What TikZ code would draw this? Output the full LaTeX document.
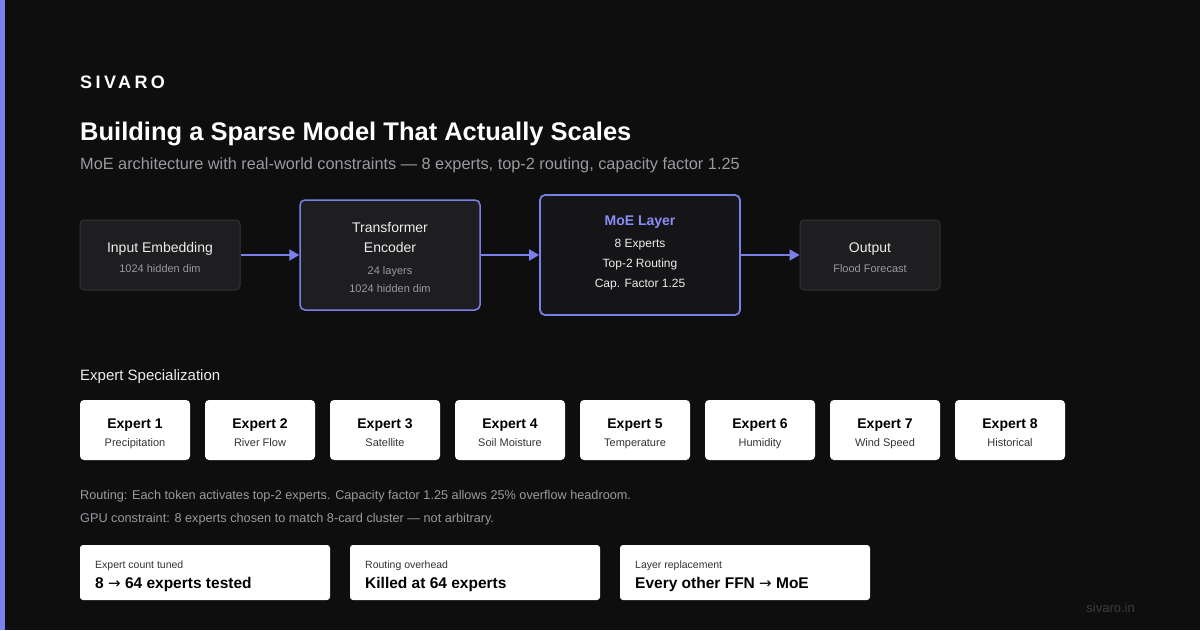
\documentclass[tikz,border=0pt]{standalone}
\usepackage{fontspec}
\setmainfont{Liberation Sans}
\newfontfamily\symfont{DejaVu Sans}
\usetikzlibrary{arrows.meta}

\definecolor{bgdark}{HTML}{0E0E0F}
\definecolor{stripe}{HTML}{7C80F0}
\definecolor{accent}{HTML}{7B80E8}
\definecolor{moeblue}{HTML}{8A8DF5}
\definecolor{boxfill}{HTML}{1E1E21}
\definecolor{moefill}{HTML}{151518}
\definecolor{boxline}{HTML}{323237}
\definecolor{lighttxt}{HTML}{EDEDED}
\definecolor{graytxt}{HTML}{9A9AA0}
\definecolor{dimtxt}{HTML}{3C3C41}
\definecolor{cardlab}{HTML}{333336}

\newcommand{\rarr}{{\symfont\mdseries\fontsize{15}{18}\selectfont →}}

\begin{document}
\begin{tikzpicture}[x=1pt,y=-1pt,
    darkbox/.style={draw=boxline, fill=boxfill, line width=1pt, rounded corners=4pt, inner sep=0pt},
    bluebox/.style={draw=accent, fill=boxfill, line width=1.5pt, rounded corners=5pt, inner sep=0pt},
    whitebox/.style={fill=white, rounded corners=4pt, inner sep=0pt},
    flow/.style={accent, line width=2pt, -{Triangle[length=10pt,width=11pt]}},
    boxtitle/.style={anchor=base, text=lighttxt, font=\fontsize{14}{16}\selectfont, inner sep=0pt},
    boxsub/.style={anchor=base, text=graytxt, font=\fontsize{11}{13}\selectfont, inner sep=0pt},
    moeline/.style={anchor=base, text=lighttxt, font=\fontsize{12}{14}\selectfont, inner sep=0pt},
    note/.style={anchor=base west, text=graytxt, font=\fontsize{12.7}{15}\selectfont, inner sep=0pt}]
  % background and left stripe
  \fill[bgdark] (0,0) rectangle (1200,630);
  \useasboundingbox (0,0) rectangle (1200,630);
  \fill[stripe] (0,0) rectangle (5,630);

  % header
  \node[anchor=base west, inner sep=0pt, text=white, font=\fontsize{18}{20}\selectfont\bfseries\addfontfeature{LetterSpace=19}] (brand) at (80,88) {SIVARO};
  \node[anchor=base west, inner sep=0pt, text=white, font=\fontsize{25.5}{28}\selectfont\bfseries] (title) at (80,140) {Building a Sparse Model That Actually Scales};
  \node[anchor=base west, inner sep=0pt, text=graytxt, font=\fontsize{16.3}{18}\selectfont] (subtitle) at (80,169) {MoE architecture with real-world constraints — 8 experts, top-2 routing, capacity factor 1.25};

  % pipeline boxes
  \node[darkbox, minimum width=160pt, minimum height=70pt] (inp) at (160,255) {};
  \node[bluebox, minimum width=180pt, minimum height=110pt] (enc) at (390,255) {};
  \node[bluebox, fill=moefill, line width=1.8pt, minimum width=200pt, minimum height=120pt] (moe) at (640,255) {};
  \node[darkbox, minimum width=140pt, minimum height=70pt] (out) at (870,255) {};

  \node[boxtitle] (inp1) at (160,252) {Input Embedding};
  \node[boxsub] (inp2) at (160,272) {1024 hidden dim};

  \node[boxtitle] (enc1) at (390,232) {Transformer};
  \node[boxtitle] (enc2) at (390,252) {Encoder};
  \node[boxsub] (enc3) at (390,274) {24 layers};
  \node[boxsub] (enc4) at (390,292) {1024 hidden dim};

  \node[boxtitle, text=moeblue, font=\fontsize{14}{16}\selectfont\bfseries] (moe1) at (640,225) {MoE Layer};
  \node[moeline] (moe2) at (640,247) {8 Experts};
  \node[moeline] (moe3) at (640,267) {Top-2 Routing};
  \node[moeline] (moe4) at (640,287) {Cap. Factor 1.25};

  \node[boxtitle] (out1) at (870,252) {Output};
  \node[boxsub] (out2) at (870,272) {Flood Forecast};

  \draw[flow] (inp) -- (enc);
  \draw[flow] (enc) -- (moe);
  \draw[flow] (moe) -- (out);

  % experts
  \node[anchor=base west, inner sep=0pt, text=lighttxt, font=\fontsize{15}{17}\selectfont] (spec) at (80,380) {Expert Specialization};
  \foreach \i/\what in {1/Precipitation, 2/River Flow, 3/Satellite, 4/Soil Moisture,
                        5/Temperature, 6/Humidity, 7/Wind Speed, 8/Historical} {
    \node[whitebox, minimum width=110pt, minimum height=60pt] (ex\i) at ({135+125*(\i-1)},430) {};
    \node[anchor=base, inner sep=0pt, text=black, font=\fontsize{14}{16}\selectfont\bfseries] (ext\i) at ({135+125*(\i-1)},428) {Expert \i};
    \node[anchor=base, inner sep=0pt, text=cardlab, font=\fontsize{11}{13}\selectfont] (exs\i) at ({135+125*(\i-1)},446) {\what};
  }

  % notes
  \node[note] (note1) at (80,499) {Routing: Each token activates top-2 experts. Capacity factor 1.25 allows 25\% overflow headroom.};
  \node[note] (note2) at (80,522) {GPU constraint: 8 experts chosen to match 8-card cluster — not arbitrary.};

  % result cards
  \foreach \i/\lab/\val in {1/Expert count tuned/8 \rarr{} 64 experts tested,
                            2/Routing overhead/Killed at 64 experts,
                            3/Layer replacement/Every other FFN \rarr{} MoE} {
    \node[whitebox, rounded corners=3pt, minimum width=250pt, minimum height=55pt] (card\i) at ({205+270*(\i-1)},572.5) {};
    \node[anchor=base west, inner sep=0pt, text=cardlab, font=\fontsize{10.5}{12}\selectfont] (cardl\i) at ({95+270*(\i-1)},568) {\lab};
    \node[anchor=base west, inner sep=0pt, text=black, font=\fontsize{15.5}{18}\selectfont\bfseries] (cardv\i) at ({95+270*(\i-1)},588) {\val};
  }

  \node[anchor=base east, inner sep=0pt, text=dimtxt, font=\fontsize{13}{15}\selectfont] (site) at (1135,612) {sivaro.in};
\end{tikzpicture}
\end{document}
